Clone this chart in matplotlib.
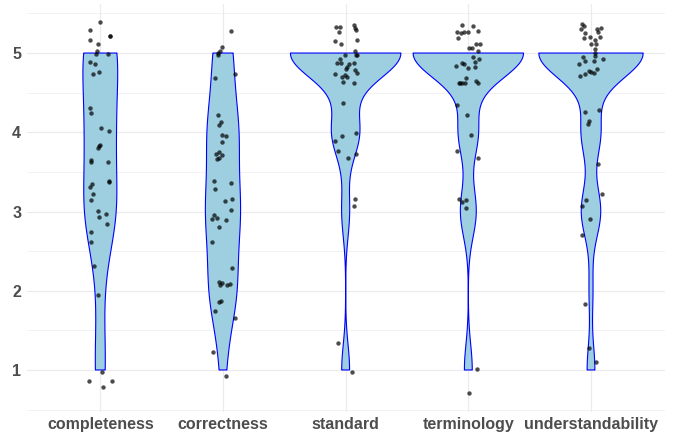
import numpy as np
import matplotlib
matplotlib.use("Agg")
import matplotlib.pyplot as plt
from matplotlib.ticker import FixedLocator

categories = ["completeness", "correctness", "standard", "terminology", "understandability"]

# Jittered points: horizontal offset (category units) and value
completeness_dx = [0.000, -0.084, 0.079, 0.079, -0.084, -0.016, -0.027, -0.033, 0.065, -0.084, -0.043, -0.011, -0.060,
                   -0.087, -0.076, 0.005, 0.071, -0.003, -0.011, -0.019, -0.079, -0.076, 0.063,
                   0.073, 0.073, -0.065, -0.084, -0.063, -0.079, -0.019, 0.043, -0.011, 0.054, -0.073, -0.073,
                   -0.049, -0.016,
                   0.014, -0.090, 0.098, 0.019]
completeness_y = [5.39, 5.29, 5.21, 5.21, 5.16, 5.11, 5.02, 4.99, 4.99, 4.89, 4.86, 4.76, 4.73,
                  4.31, 4.24, 4.05, 4.01, 3.84, 3.83, 3.80, 3.65, 3.62, 3.62,
                  3.38, 3.37, 3.35, 3.31, 3.22, 3.14, 3.01, 2.97, 2.93, 2.84, 2.74, 2.61,
                  2.31, 1.95,
                  0.97, 0.86, 0.86, 0.78]

correctness_dx = [0.065, -0.005, -0.027, -0.038, -0.043, 0.095, -0.065,
                  -0.038, -0.019, -0.033, -0.008, 0.027, -0.011, -0.033, -0.060, -0.011, -0.033, -0.046,
                  -0.076, 0.063, -0.063, 0.071, 0.019, 0.063, -0.073, -0.052, -0.092, 0.022, -0.035, -0.092,
                  0.076, -0.035, -0.011, -0.022, 0.030, 0.057, -0.019, -0.035, -0.065, 0.101,
                  -0.079, 0.022]
correctness_y = [5.28, 5.08, 5.02, 5.00, 4.98, 4.73, 4.68,
                 4.22, 4.13, 4.09, 3.97, 3.95, 3.88, 3.75, 3.72, 3.71, 3.67, 3.66,
                 3.38, 3.36, 3.29, 3.16, 3.13, 3.02, 2.96, 2.92, 2.90, 2.89, 2.80, 2.61,
                 2.29, 2.11, 2.10, 2.07, 2.07, 2.09, 1.87, 1.86, 1.75, 1.65,
                 1.23, 0.93]

standard_dx = [-0.076, -0.046, 0.071, 0.079, 0.087, -0.057, 0.095, -0.087, -0.041, 0.073, -0.003, 0.084, 0.092, -0.049,
               -0.071, -0.041, 0.071, 0.024, 0.014, 0.003, 0.076, 0.092, -0.084, -0.033, -0.008, 0.011, -0.022, 0.065,
               -0.024, 0.084, -0.027, -0.087, -0.063, 0.082, 0.022,
               0.079, 0.071,
               -0.065, 0.050]
standard_y = [5.33, 5.33, 5.35, 5.31, 5.29, 5.26, 5.17, 5.15, 5.11, 5.02, 4.98, 4.98, 4.97, 4.92,
              4.88, 4.88, 4.88, 4.86, 4.83, 4.80, 4.79, 4.75, 4.73, 4.70, 4.72, 4.70, 4.64, 4.62,
              4.37, 3.99, 3.95, 3.89, 3.76, 3.73, 3.68,
              3.16, 3.07,
              1.34, 0.98]

terminology_dx = [-0.054, 0.038, -0.090, -0.063, -0.038, -0.003, 0.076, -0.087, 0.065, 0.095, 0.005, 0.027, 0.076, 0.035,
                  0.087, 0.057, -0.054, -0.035, -0.098, -0.005, 0.057, -0.079, -0.065, -0.049, -0.027, -0.016, 0.060, 0.076,
                  -0.092, -0.011, 0.022, -0.095, 0.079,
                  -0.073, -0.052, -0.016, -0.022,
                  0.071, 0.008]
terminology_y = [5.35, 5.34, 5.27, 5.25, 5.27, 5.27, 5.28, 5.19, 5.11, 5.11, 5.06, 5.06, 5.02, 4.95,
                 4.92, 4.89, 4.88, 4.86, 4.84, 4.81, 4.83, 4.62, 4.62, 4.62, 4.62, 4.69, 4.65, 4.62,
                 4.35, 4.22, 3.97, 3.76, 3.68,
                 3.16, 3.12, 3.14, 3.05,
                 1.01, 0.71]

understandability_dx = [-0.071, -0.060, -0.082, -0.046, 0.082, 0.049, 0.057, -0.060, -0.011, 0.073, 0.035, 0.003, 0.041,
                        0.035, 0.033, 0.033, -0.063, -0.052, 0.027, 0.095, -0.098, -0.014, -0.003, 0.049, 0.024, -0.090, -0.046,
                        -0.049, 0.063, -0.019, -0.024, 0.054,
                        0.090, -0.038, -0.076, -0.005, -0.071,
                        -0.046,
                        -0.016, 0.038]
understandability_y = [5.37, 5.34, 5.30, 5.25, 5.32, 5.30, 5.26, 5.19, 5.20, 5.20, 5.17, 5.12, 5.11,
                       5.05, 5.00, 4.96, 4.95, 4.90, 4.90, 4.92, 4.86, 4.77, 4.76, 4.80, 4.75, 4.71, 4.73,
                       4.26, 4.28, 4.14, 4.11, 3.60,
                       3.22, 3.14, 3.07, 2.90, 2.70,
                       1.83,
                       1.28, 1.10]

dx_lists = [completeness_dx, correctness_dx, standard_dx, terminology_dx, understandability_dx]
y_lists = [completeness_y, correctness_y, standard_y, terminology_y, understandability_y]

FILL = "#9ECFE0"
EDGE = "#0000FF"
TEXT = "#4D4D4D"
GRID = "#EBEBEB"


def bw_nrd0(x):
    x = np.asarray(x, float)
    sd = np.std(x, ddof=1)
    q75, q25 = np.percentile(x, [75, 25])
    lo = min(sd, (q75 - q25) / 1.34)
    if lo == 0:
        lo = sd if sd > 0 else 1.0
    return 0.9 * lo * len(x) ** -0.2


def kde(x, grid):
    x = np.asarray(x, float)
    bw = bw_nrd0(x)
    z = (grid[:, None] - x[None, :]) / bw
    return np.exp(-0.5 * z ** 2).sum(axis=1) / (len(x) * bw * np.sqrt(2 * np.pi))


fig = plt.figure(figsize=(6.78, 4.37), dpi=100)
ax = fig.add_axes([26.7 / 678, 1 - 411.5 / 437, (664.6 - 26.7) / 678, (411.5 - 3.6) / 437])

# underlying integer scores (violins are computed on them)
scores = [np.round(np.asarray(y)) for y in y_lists]
grids, dens = [], []
for s in scores:
    g = np.linspace(s.min(), s.max(), 512)
    grids.append(g)
    dens.append(kde(s, g))
gmax = max(d.max() for d in dens)

for i, (g, d) in enumerate(zip(grids, dens)):
    pos = i + 1
    hw = 0.45 * d / gmax
    xs = np.concatenate([pos + hw, (pos - hw)[::-1]])
    ys = np.concatenate([g, g[::-1]])
    ax.fill(xs, ys, facecolor=FILL, edgecolor=EDGE, linewidth=0.8, zorder=2, joinstyle="round")

for i, (dxs, ys) in enumerate(zip(dx_lists, y_lists)):
    ax.scatter(np.asarray(dxs) + i + 1, ys, s=10, color="black", alpha=0.7, linewidths=0, zorder=3)

all_y = np.concatenate([np.asarray(y) for y in y_lists])
lo, hi = all_y.min(), all_y.max()
pad = 0.05 * (hi - lo)
ax.set_ylim(lo - pad, hi + pad)
ax.set_xlim(0.4, 5.6)

ax.xaxis.set_major_locator(FixedLocator([1, 2, 3, 4, 5]))
ax.set_xticklabels(categories)
ax.yaxis.set_major_locator(FixedLocator([1, 2, 3, 4, 5]))
ax.yaxis.set_minor_locator(FixedLocator([0.5, 1.5, 2.5, 3.5, 4.5, 5.5]))

ax.grid(True, which="major", axis="both", color=GRID, linewidth=0.8, zorder=0)
ax.grid(True, which="minor", axis="y", color=GRID, linewidth=0.45, zorder=0)
ax.set_axisbelow(True)
for sp in ax.spines.values():
    sp.set_visible(False)
ax.tick_params(axis="both", which="both", length=0)
ax.tick_params(axis="x", pad=4)
ax.tick_params(axis="y", pad=4)
for lab in ax.get_xticklabels() + ax.get_yticklabels():
    lab.set_fontfamily("Liberation Sans")
    lab.set_fontweight("bold")
    lab.set_fontsize(11.5)
    lab.set_color(TEXT)

fig.savefig("out.png", dpi=100, facecolor="white")
